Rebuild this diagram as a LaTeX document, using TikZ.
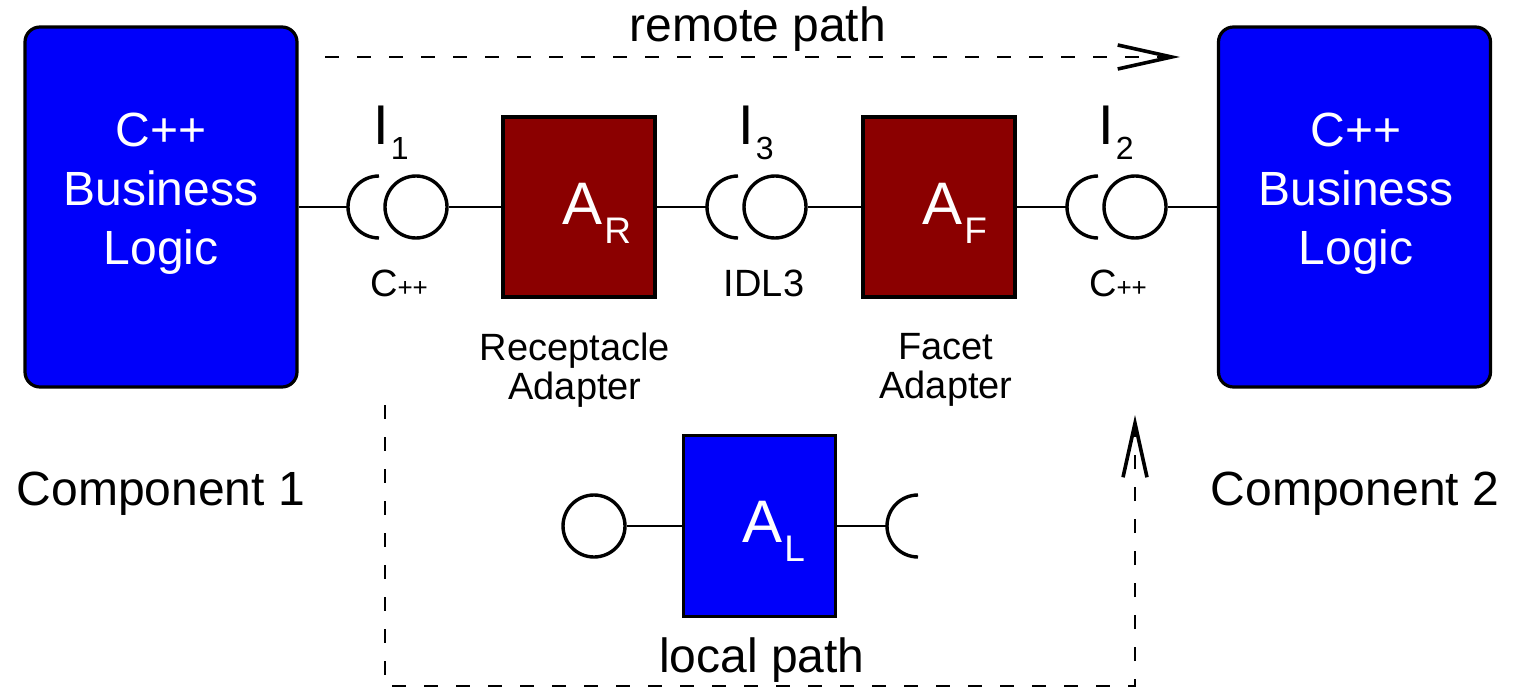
\documentclass[tikz,border=0pt]{standalone}
\usepackage{fontspec}
\setmainfont{Liberation Sans}
\usetikzlibrary{arrows.meta}
\definecolor{bizblue}{RGB}{0,0,250}
\definecolor{adred}{RGB}{139,0,0}
\newcommand\bigtxt{\fontsize{24}{29.5}\selectfont}
\newcommand\smalltxt{\fontsize{19}{19.5}\selectfont}
\newcommand\ifclab[1]{{\fontsize{28}{28}\selectfont I}\kern1pt\raisebox{-7.5pt}{\fontsize{16}{16}\selectfont #1}}
\newcommand\adplab[1]{{\fontsize{30}{30}\selectfont A}\kern1pt\raisebox{-9.5pt}{\fontsize{18.5}{18.5}\selectfont #1}}
\newcommand\cpplab{C{\fontsize{13}{13}\selectfont ++}}

\begin{document}
\begin{tikzpicture}[x=0.5pt,y=-0.5pt,
	bizbox/.style={draw,fill=bizblue,rounded corners=7.5pt,line width=1.6pt,minimum width=136pt,minimum height=180pt},
	adbox/.style={draw,line width=1.6pt,minimum width=76pt,minimum height=90pt},
	ball/.style={draw,circle,line width=1.7pt,minimum size=31pt,inner sep=0pt},
	sock/.style={line width=1.7pt},
	wire/.style={line width=1.2pt},
	pathline/.style={line width=1.4pt,dash pattern=on 7pt off 9pt},
	pathtip/.style={-{Straight Barb[length=27pt,width=12pt,line width=1.8pt]}},
	txt/.style={inner sep=0pt}]
		\useasboundingbox (0,0) rectangle (1518,689);
		\node[bizbox] (cl) at (161,207) {};
		\node[bizbox] (cr) at (1354.5,207) {};
		\node[adbox,fill=adred] (ar) at (579,207) {};
		\node[adbox,fill=adred] (af) at (939,207) {};
		\node[adbox,fill=bizblue,minimum height=90.5pt] (al) at (759.5,526) {};
		\node[ball] (b1) at (416,207) {};
		\node[ball] (b3) at (775,207) {};
		\node[ball] (b2) at (1135,207) {};
		\node[ball] (bl) at (594,526) {};
		\coordinate (s1) at (348,207);
		\coordinate (s3) at (707,207);
		\coordinate (s2) at (1067,207);
		\coordinate (sl) at (887,526);
		\draw[sock] (379,176) arc[start angle=90,end angle=270,radius=15.5pt];
		\draw[sock] (738,176) arc[start angle=90,end angle=270,radius=15.5pt];
		\draw[sock] (1098,176) arc[start angle=90,end angle=270,radius=15.5pt];
		\draw[sock] (918,495) arc[start angle=90,end angle=270,radius=15.5pt];
		\draw[wire] (cl) -- (s1);
		\draw[wire] (b1) -- (ar);
		\draw[wire] (ar) -- (s3);
		\draw[wire] (b3) -- (af);
		\draw[wire] (af) -- (s2);
		\draw[wire] (b2) -- (cr);
		\draw[wire] (bl) -- (al);
		\draw[wire] (al) -- (sl);

		\node[txt,white,align=center,anchor=north,font=\bigtxt] (cltxt) at (161,113) {C++\\Business\\Logic};
		\node[txt,white,align=center,anchor=north,font=\bigtxt] (crtxt) at (1356,113) {C++\\Business\\Logic};
		\node[txt,white,anchor=base west] (artxt) at (562,225) {\adplab{R}};
		\node[txt,white,anchor=base west] (aftxt) at (922,225) {\adplab{F}};
		\node[txt,white,anchor=base west] (altxt) at (742,542) {\adplab{L}};
		\node[txt,anchor=base west] (i1) at (373,145) {\ifclab{1}};
		\node[txt,anchor=base west] (i3) at (738,145) {\ifclab{3}};
		\node[txt,anchor=base west] (i2) at (1098,145) {\ifclab{2}};
		\node[txt,anchor=base,font=\smalltxt] (t1) at (399,297) {\cpplab};
		\node[txt,anchor=base,font=\smalltxt] (t3) at (764,297) {IDL3};
		\node[txt,anchor=base,font=\smalltxt] (t2) at (1118,297) {\cpplab};
		\node[txt,align=center,anchor=north,font=\smalltxt] (rcp) at (575,333) {Receptacle\\Adapter};
		\node[txt,align=center,anchor=north,font=\smalltxt] (fct) at (946,333) {Facet\\Adapter};
		\node[txt,anchor=base,font=\bigtxt] (comp1) at (161,505) {Component 1};
		\node[txt,anchor=base,font=\bigtxt] (comp2) at (1355,505) {Component 2};
		\node[txt,anchor=base,font=\bigtxt] (rpath) at (758,42) {remote path};
		\node[txt,anchor=base,font=\bigtxt] (lpath) at (762,672) {local path};

		\coordinate (rstart) at (325,57);
		\coordinate (rend) at (1180,57);
		\draw[pathline,pathtip] (rstart) -- (rend);
		\coordinate (lstart) at (385,405);
		\coordinate (lcorner) at (760,686);
		\coordinate (lend) at (1135,415);
		\draw[pathline,pathtip] (lstart) |- (lcorner) -| (lend);
\end{tikzpicture}
\end{document}
